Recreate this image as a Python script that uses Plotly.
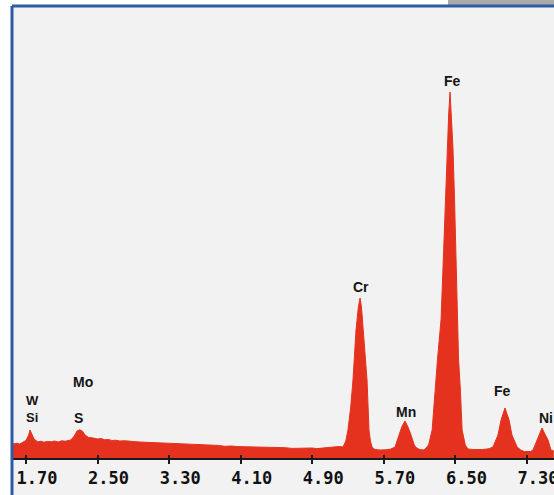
import plotly.graph_objects as go

# EDS spectrum outline: energy (keV) and counts
energy_kev = [
    1.54, 1.57, 1.60, 1.63, 1.66, 1.70, 1.73, 1.745, 1.76, 1.79, 1.83, 1.87,
    1.90, 1.94, 1.98, 2.02, 2.06, 2.10, 2.14, 2.20, 2.24, 2.27, 2.30, 2.33,
    2.36, 2.40, 2.45, 2.50, 2.54, 2.58, 2.62, 2.66, 2.70, 2.75, 2.80, 2.85,
    2.91, 2.97, 3.03, 3.10, 3.17, 3.25, 3.33, 3.41, 3.48, 3.55, 3.62, 3.70,
    3.77, 3.85, 3.92, 4.00, 4.07, 4.15, 4.22, 4.30, 4.37, 4.45, 4.52, 4.60,
    4.67, 4.75, 4.82, 4.90, 4.95, 5.00, 5.06, 5.12, 5.20,
    5.243, 5.275, 5.299, 5.33, 5.355, 5.389, 5.415, 5.434, 5.45, 5.467, 5.49,
    5.512, 5.525, 5.534, 5.55, 5.568, 5.60, 5.635,
    5.66, 5.72, 5.78, 5.825, 5.869, 5.90, 5.936, 5.97, 6.004, 6.04, 6.06,
    6.10, 6.15,
    6.20, 6.24, 6.27, 6.30, 6.34, 6.365, 6.385, 6.408, 6.425, 6.44, 6.455,
    6.473, 6.49, 6.505, 6.52, 6.535, 6.555, 6.575, 6.61, 6.64,
    6.70, 6.75, 6.80, 6.85, 6.88, 6.92, 6.976, 7.01, 7.054, 7.10, 7.132, 7.19,
    7.23, 7.27, 7.32,
    7.34, 7.367, 7.412, 7.44, 7.468, 7.50, 7.535, 7.568, 7.60,
]
counts = [
    160, 152, 158, 150, 165, 185, 240, 290, 260, 200, 172, 178,
    168, 176, 172, 180, 170, 182, 178, 190, 230, 280, 292, 280,
    240, 215, 210, 200, 205, 192, 196, 185, 188, 180, 183, 176,
    174, 170, 168, 165, 160, 158, 156, 152, 150, 146, 143, 140,
    137, 136, 127, 130, 124, 122, 126, 120, 115, 116, 118, 113,
    106, 110, 112, 110, 104, 108, 110, 115, 125,
    120, 180, 290, 520, 790, 1290, 1520, 1610, 1520, 1290, 1000,
    790, 500, 290, 180, 120, 95, 90,
    90, 92, 100, 120, 240, 320, 380, 320, 240, 140, 115,
    95, 90,
    140, 290, 700, 1000, 1400, 2000, 2600, 3100, 3450, 3670, 3450,
    3100, 2600, 2000, 1400, 1000, 700, 290, 140, 100,
    95, 92, 95, 100, 105, 120, 240, 390, 510, 390, 240, 120,
    90, 75, 70,
    75, 90, 190, 260, 310, 250, 190, 90, 80,
]

tick_vals = [1.70, 2.50, 3.30, 4.10, 4.90, 5.70, 6.50, 7.30]
tick_text = ["1.70", "2.50", "3.30", "4.10", "4.90", "5.70", "6.50", "7.30"]

# element labels: (text, energy, counts, x-anchor, font size)
peak_labels = [
    ("Fe", 6.467, 3780, "center", 14),
    ("Cr", 5.445, 1720, "center", 14),
    ("Mn", 5.948, 470, "center", 14),
    ("Fe", 7.021, 680, "center", 14),
    ("Ni", 7.412, 410, "left", 14),
    ("Mo", 2.337, 770, "center", 14),
    ("S", 2.292, 410, "center", 14),
    ("W<br>Si", 1.772, 505, "center", 13),
]

W, H = 554, 495
x_range = [1.5435, 7.602]
y_range = [-360, 4520]
axis_pos = (H - 459) / H

fig = go.Figure()
fig.add_trace(go.Scatter(
    x=energy_kev, y=counts, mode="lines", fill="tozeroy",
    fillcolor="#e5321f", line=dict(color="#e5321f", width=1),
    hoverinfo="skip", showlegend=False,
))

for text, ex, cy, anchor, size in peak_labels:
    fig.add_annotation(
        x=ex, y=cy, text=text, showarrow=False,
        xanchor=anchor, yanchor="middle",
        font=dict(family="Liberation Sans, Arial", size=size, color="#151515", weight="bold"),
    )

# frame and corner patch
shapes = [
    dict(type="rect", xref="paper", yref="paper", x0=0.8087, x1=1.0,
         y0=(H - 5) / H, y1=1.0, fillcolor="#a9a9a9", line=dict(width=0), layer="below"),
    dict(type="rect", xref="paper", yref="paper", x0=12 / W, x1=1.0,
         y0=0, y1=(H - 6) / H, fillcolor="#f2f2f2", line=dict(width=0), layer="below"),
    dict(type="line", xref="paper", yref="paper", x0=12 / W, x1=1.0,
         y0=(H - 6) / H, y1=(H - 6) / H, line=dict(color="#2d5ba6", width=3)),
    dict(type="line", xref="paper", yref="paper", x0=12 / W, x1=12 / W,
         y0=0, y1=(H - 6) / H, line=dict(color="#2d5ba6", width=3)),
]

fig.update_layout(
    width=W, height=H,
    margin=dict(l=0, r=0, t=0, b=0, autoexpand=False),
    paper_bgcolor="white",
    plot_bgcolor="rgba(0,0,0,0)",
    shapes=shapes,
    xaxis=dict(
        domain=[12 / W, 1.0], range=x_range, anchor="free", position=axis_pos,
        automargin=False, showgrid=False, zeroline=False,
        showline=True, linecolor="#1a1a1a", linewidth=2,
        tickmode="array", tickvals=tick_vals, ticktext=tick_text,
        ticks="outside", ticklen=4, tickwidth=2, tickcolor="#1a1a1a",
        tickfont=dict(family="DejaVu Sans Mono", size=17, color="#111111", weight="bold"),
        ticklabelstandoff=0, ticklabelshift=11, ticklabeloverflow="allow",
    ),
    xaxis2=dict(
        domain=[12 / W, 1.0], range=x_range, anchor="free", position=axis_pos,
        overlaying="x", matches="x", automargin=False,
        showgrid=False, zeroline=False,
        tickmode="array", tickvals=tick_vals, showticklabels=False,
        ticks="inside", ticklen=4, tickwidth=2, tickcolor="#1a1a1a",
    ),
    yaxis=dict(domain=[0, (H - 7) / H], range=y_range, visible=False, automargin=False),
)
# empty trace so the second axis is drawn
fig.add_trace(go.Scatter(x=[], y=[], xaxis="x2", showlegend=False))

fig.write_html("out.html")
